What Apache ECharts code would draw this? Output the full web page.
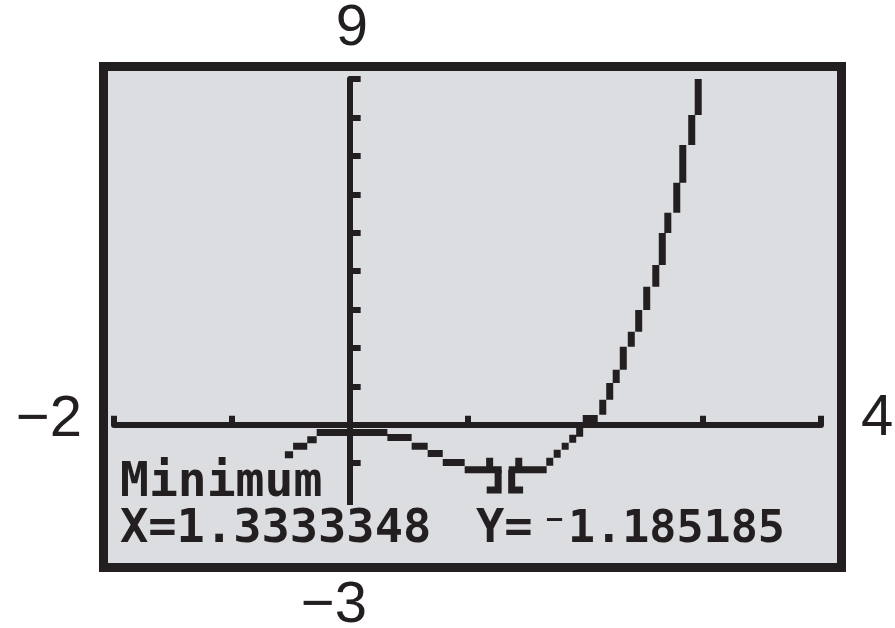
<!DOCTYPE html>
<html>
<head>
<meta charset="utf-8">
<script src="https://cdn.jsdelivr.net/npm/echarts@6/dist/echarts.min.js"></script>
<style>
html,body{margin:0;padding:0;background:#fff;}
#chart{width:895px;height:628px;}
</style>
</head>
<body>
<div id="chart"></div>
<script>
// Window settings (tick labels shown outside the screen)
var xWindow = [-2, 4];
var yWindow = [-3, 9];
var xTickStep = 1;
var yTickStep = 1;
var yTickValues = [-1, 0, 1, 2, 3, 4, 5, 6, 7, 8, 9];

// Curve pixel runs, in graph units; null separates runs
var curveX = [
  -0.55,-0.48,null, -0.48,-0.36,null, -0.36,-0.28,null, -0.28,0.32,null,
  0.32,0.526,null, 0.526,0.662,null, 0.662,0.79,null, 0.79,0.976,null,
  0.976,1.29,null, 1.35,1.672,null,
  1.698,1.698,null, 1.761,1.761,null, 1.829,1.829,null, 1.893,1.893,null, 1.952,1.952,null,
  1.978,2.105,null,
  2.148,2.148,null, 2.207,2.207,null, 2.262,2.262,null, 2.322,2.322,null, 2.390,2.390,null,
  2.453,2.453,null, 2.521,2.521,null, 2.598,2.598,null, 2.653,2.653,null, 2.700,2.700,null,
  2.776,2.776,null, 2.827,2.827,null, 2.903,2.903,null, 2.958,2.958
];
var curveY = [
  -0.78,-0.78,null, -0.56,-0.56,null, -0.39,-0.39,null, -0.2,-0.2,null,
  -0.33,-0.33,null, -0.56,-0.56,null, -0.75,-0.75,null, -0.98,-0.98,null,
  -1.17,-1.17,null, -1.17,-1.17,null,
  -1.07,-0.86,null, -0.86,-0.65,null, -0.65,-0.47,null, -0.47,-0.26,null, -0.31,-0.08,null,
  0.16,0.16,null,
  0.26,0.65,null, 0.65,1.09,null, 1.09,1.43,null, 1.43,2.03,null, 2.03,2.42,null,
  2.42,2.99,null, 2.99,3.59,null, 3.59,4.16,null, 4.16,4.99,null, 4.99,5.52,null,
  5.52,6.30,null, 6.30,7.28,null, 7.28,8.06,null, 8.06,9.0
];

// Trace cursor pieces at the minimum
var cursorX = [1.188,1.188,null,1.26,1.26,1.163,null,1.375,1.375,1.472,null,1.435,1.435];
var cursorY = [-0.86,-1.17,null,-1.17,-1.70,-1.70,null,-1.17,-1.70,-1.70,null,-0.86,-1.17];

// Screen text
var screenTitle = 'Minimum';
var xReadout = 'X=1.3333348';
var yReadoutName = 'Y=';
var yReadoutValue = '\u207B1.185185';

function pairs(xs, ys) {
  return xs.map(function (x, i) { return x === null ? null : [x, ys[i]]; });
}
function fmt(v) { return v < 0 ? '\u2212' + Math.abs(v) : String(v); }

var ink = '#231f20';
var screen = '#dcdde0';
var outerFont = "'Liberation Sans Narrow','Liberation Sans',sans-serif";
var lcdFont = "'DejaVu Sans Mono',monospace";

var chart = echarts.init(document.getElementById('chart'), null, {renderer: 'canvas'});
chart.setOption({
  animation: false,
  backgroundColor: '#ffffff',
  grid: {left: 114, right: 74, top: 79, bottom: 88, containLabel: false},
  xAxis: {
    type: 'value', min: xWindow[0], max: xWindow[1], interval: xTickStep,
    axisLine: {onZero: true, lineStyle: {color: ink, width: 6}},
    axisTick: {inside: true, length: 9, lineStyle: {color: ink, width: 6}},
    axisLabel: {show: false},
    splitLine: {show: false}
  },
  yAxis: {
    type: 'value', min: yWindow[0], max: yWindow[1], interval: yTickStep,
    axisLine: {onZero: true, lineStyle: {color: ink, width: 6}},
    axisTick: {inside: true, length: 11, customValues: yTickValues, lineStyle: {color: ink, width: 6}},
    axisLabel: {show: false},
    splitLine: {show: false}
  },
  series: [
    {
      type: 'line', data: pairs(curveX, curveY), showSymbol: false, connectNulls: false,
      lineStyle: {color: ink, width: 7, join: 'miter', cap: 'butt'}, z: 5, clip: false
    },
    {
      type: 'line', data: pairs(cursorX, cursorY), showSymbol: false, connectNulls: false,
      lineStyle: {color: ink, width: 7, join: 'miter', cap: 'butt'}, z: 5, clip: false
    }
  ],
  graphic: [
    {type: 'rect', z: -10, shape: {x: 103.5, y: 66.5, width: 738, height: 501},
     style: {fill: screen, stroke: ink, lineWidth: 9}},
    {type: 'rect', z: 50, shape: {x: 108, y: 505, width: 728, height: 57},
     style: {fill: screen}},
    {type: 'text', z: 60, x: 120, y: 484,
     style: {text: screenTitle, font: 'bold 48px ' + lcdFont, fill: ink, textVerticalAlign: 'middle'}},
    {type: 'text', z: 60, x: 120, y: 530,
     style: {text: xReadout, font: 'bold 47px ' + lcdFont, fill: ink, textVerticalAlign: 'middle'}},
    {type: 'text', z: 60, x: 476, y: 530,
     style: {text: yReadoutName, font: 'bold 47px ' + lcdFont, fill: ink, textVerticalAlign: 'middle'}},
    {type: 'text', z: 60, x: 541, y: 530,
     style: {text: yReadoutValue, font: 'bold 45px ' + lcdFont, fill: ink, textVerticalAlign: 'middle'}},
    {type: 'text', z: 60, x: 352, y: 29,
     style: {text: fmt(yWindow[1]), font: '58px ' + outerFont, fill: ink, textAlign: 'center', textVerticalAlign: 'middle'}},
    {type: 'text', z: 60, x: 82, y: 420,
     style: {text: fmt(xWindow[0]), font: '58px ' + outerFont, fill: ink, textAlign: 'right', textVerticalAlign: 'middle'}},
    {type: 'text', z: 60, x: 861, y: 419,
     style: {text: fmt(xWindow[1]), font: '58px ' + outerFont, fill: ink, textAlign: 'left', textVerticalAlign: 'middle'}},
    {type: 'text', z: 60, x: 367, y: 606,
     style: {text: fmt(yWindow[0]), font: '58px ' + outerFont, fill: ink, textAlign: 'right', textVerticalAlign: 'middle'}}
  ]
});
</script>
</body>
</html>
